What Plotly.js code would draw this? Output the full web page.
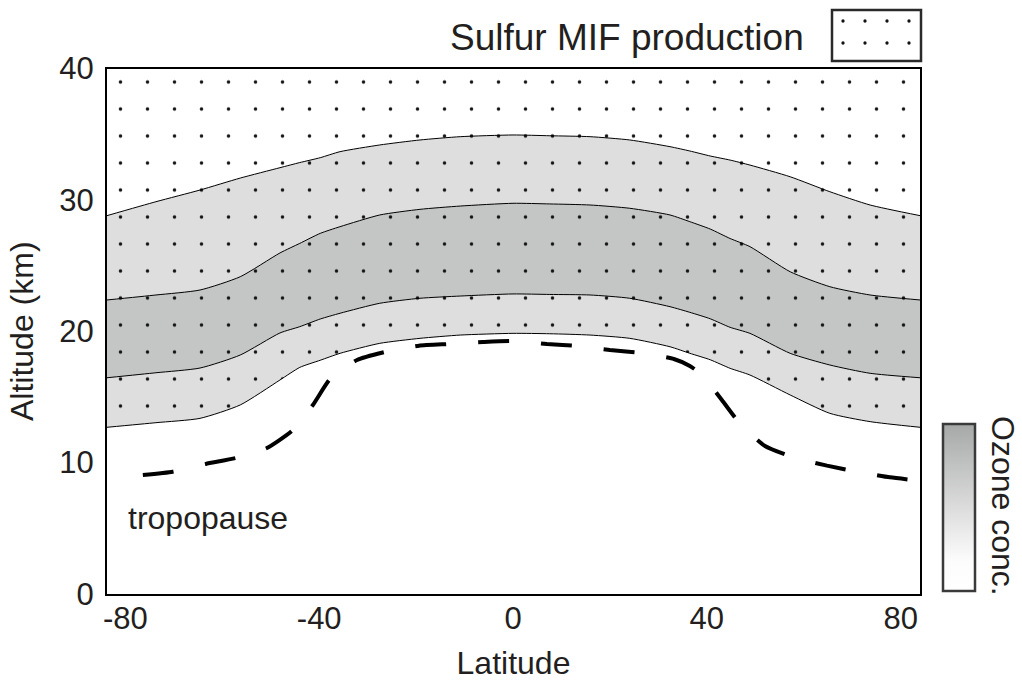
<!DOCTYPE html>
<html>
<head>
<meta charset="utf-8">
<script src="https://cdn.plot.ly/plotly-3.0.1.min.js"></script>
<style>html,body{margin:0;padding:0;background:#fff;}#chart{width:1022px;height:681px;}</style>
</head>
<body>
<div id="chart"></div>
<script>
// ---- data ----
const latitude = [-83.8, -73.7, -64.6, -56.3, -48.1, -44.0, -39.8, -35.7, -27.5, -19.2, -10.9, 0, 7.6, 15.9, 24.1, 32.4, 36.5, 40.7, 44.8, 48.9, 57.2, 65.4, 73.7, 84.0];
const ozoneOuterTop    = [28.80, 29.86, 30.75, 31.66, 32.45, 32.84, 33.21, 33.67, 34.18, 34.56, 34.81, 34.94, 34.88, 34.81, 34.56, 34.05, 33.72, 33.34, 33.03, 32.65, 31.76, 30.62, 29.61, 28.80];
const ozoneCoreTop     = [22.38, 22.76, 23.14, 24.15, 25.96, 26.69, 27.45, 27.96, 28.85, 29.28, 29.53, 29.74, 29.69, 29.61, 29.36, 28.85, 28.34, 27.78, 27.06, 26.44, 24.53, 23.39, 22.76, 22.38];
const ozoneCoreBottom  = [16.46, 16.84, 17.20, 18.19, 19.87, 20.35, 20.93, 21.37, 22.13, 22.51, 22.68, 22.84, 22.80, 22.76, 22.51, 21.87, 21.44, 20.95, 20.30, 19.84, 18.32, 17.43, 16.80, 16.46];
const ozoneOuterBottom = [12.69, 13.04, 13.37, 14.39, 16.29, 17.25, 17.79, 18.32, 19.08, 19.46, 19.71, 19.84, 19.81, 19.71, 19.46, 18.82, 18.32, 17.83, 17.18, 16.67, 15.15, 13.75, 13.12, 12.69];

const tropLatitude = [-76.4, -70.2, -63.4, -57.2, -50.8, -45.6, -41.3, -37.8, -32.2, -26.2, -19.4, -13.2, -6.2, 0, 7.0, 13.4, 20.0, 26.6, 33.2, 36.5, 39.0, 43.1, 46.9, 52.0, 57.8, 64.8, 71.0, 77.8, 84.0];
const tropAltitude = [9.06, 9.31, 9.90, 10.35, 11.11, 12.43, 14.39, 16.34, 17.81, 18.44, 18.90, 19.03, 19.18, 19.26, 19.03, 18.88, 18.57, 18.34, 17.89, 17.36, 16.67, 14.77, 12.94, 11.27, 10.41, 9.77, 9.31, 8.88, 8.62];

const xTickVals = [-80, -40, 0, 40, 80];
const xTickText = ['-80', '-40', '0', '40', '80'];
const yTickVals = [0, 10, 20, 30, 40];
const yTickText = ['0', '10', '20', '30', '40'];
const xRange = [-83.8, 84.0];
const yRange = [0, 40];

// ---- styles ----
const FONT = 'Liberation Sans, Arial, Helvetica, sans-serif';
const TXT = '#231f20';
const LIGHT = '#dedede';
const DARK = '#c4c6c5';
const dotPattern = {shape: '.', size: 27, solidity: 0.013, fgcolor: '#111111', fgopacity: 1, bgcolor: 'rgba(0,0,0,0)', fillmode: 'replace'};
const plotTop = latitude.map(() => yRange[1]);

const noLine = {width: 0, color: 'rgba(0,0,0,0)'};
const thin = {width: 1, color: '#000000', shape: 'spline', smoothing: 0.6};
const base = {type: 'scatter', mode: 'lines', hoverinfo: 'skip', showlegend: false};

const traces = [
  Object.assign({}, base, {x: latitude, y: ozoneOuterBottom, line: Object.assign({}, noLine, {shape: 'spline', smoothing: 0.6})}),
  Object.assign({}, base, {x: latitude, y: ozoneOuterTop, fill: 'tonexty', fillcolor: LIGHT, line: Object.assign({}, noLine, {shape: 'spline', smoothing: 0.6})}),
  Object.assign({}, base, {x: latitude, y: ozoneCoreBottom, line: Object.assign({}, noLine, {shape: 'spline', smoothing: 0.6})}),
  Object.assign({}, base, {x: latitude, y: ozoneCoreTop, fill: 'tonexty', fillcolor: DARK, line: Object.assign({}, noLine, {shape: 'spline', smoothing: 0.6})}),
  // sulfur MIF production region: dotted, from the lower ozone edge to the top
  Object.assign({}, base, {x: latitude, y: ozoneOuterBottom, line: Object.assign({}, noLine, {shape: 'spline', smoothing: 0.6})}),
  Object.assign({}, base, {x: latitude, y: plotTop, fill: 'tonexty', fillcolor: 'rgba(0,0,0,0)', fillpattern: dotPattern, line: noLine}),
  // boundary lines
  Object.assign({}, base, {x: latitude, y: ozoneOuterBottom, line: thin}),
  Object.assign({}, base, {x: latitude, y: ozoneCoreBottom, line: thin}),
  Object.assign({}, base, {x: latitude, y: ozoneCoreTop, line: thin}),
  Object.assign({}, base, {x: latitude, y: ozoneOuterTop, line: thin}),
  // tropopause
  Object.assign({}, base, {x: tropLatitude, y: tropAltitude, line: {width: 4, color: '#000000', dash: '31px,32px', shape: 'spline', smoothing: 0.5}}),
  // legend swatch for sulfur MIF production (unit box on its own axes)
  Object.assign({}, base, {x: [0, 1, 1, 0, 0], y: [0, 0, 1, 1, 0], xaxis: 'x2', yaxis: 'y2', fill: 'toself', fillcolor: 'rgba(0,0,0,0)', fillpattern: Object.assign({}, dotPattern, {size: 22, solidity: 0.018}), line: noLine}),
  // ozone concentration colour bar carrier
  {type: 'scatter', mode: 'markers', x: [0.5], y: [0.5], xaxis: 'x2', yaxis: 'y2', hoverinfo: 'skip', showlegend: false,
   marker: {size: 1, opacity: 0, color: [0], cmin: 0, cmax: 1,
     colorscale: [[0, '#ffffff'], [0.18, '#fcfcfc'], [0.5, '#dcdcdc'], [1, '#a6a8a8']],
     showscale: true,
     colorbar: {x: 0.934078, xanchor: 'left', xpad: 0, y: 0.146859, yanchor: 'middle', ypad: 0,
       len: 167, lenmode: 'pixels', thickness: 32, thicknessmode: 'pixels',
       outlinewidth: 2.5, outlinecolor: '#3a3a3a', showticklabels: false, ticks: '', borderwidth: 0}}}
];

const axisFont = {family: FONT, size: 31, color: TXT};
const layout = {
  width: 1022, height: 681,
  margin: {l: 107, r: 20, t: 5, b: 87},
  paper_bgcolor: '#ffffff', plot_bgcolor: '#ffffff',
  font: {family: FONT, color: TXT},
  showlegend: false,
  xaxis: {domain: [0, 0.90838], range: xRange, tickvals: xTickVals, ticktext: xTickText, tickfont: axisFont,
    showgrid: false, zeroline: false, showline: true, mirror: true, linewidth: 2, linecolor: '#000000', ticks: '',
    ticklabelstandoff: -4, automargin: false,
    title: {text: 'Latitude', font: {family: FONT, size: 32, color: TXT}, standoff: 20}},
  yaxis: {domain: [0, 0.89219], range: yRange, tickvals: yTickVals, ticktext: yTickText, tickfont: axisFont,
    showgrid: false, zeroline: false, showline: true, mirror: true, linewidth: 2, linecolor: '#000000', ticks: '',
    ticklabelstandoff: 5, automargin: false,
    title: {text: 'Altitude (km)', font: {family: FONT, size: 32, color: TXT}, standoff: 16}},
  xaxis2: {domain: [0.810056, 0.909497], range: [0, 1], anchor: 'y2', visible: false, fixedrange: true},
  yaxis2: {domain: [0.904924, 0.991511], range: [0, 1], anchor: 'x2', visible: false, fixedrange: true},
  shapes: [
    {type: 'rect', xref: 'paper', yref: 'paper', x0: 0.810056, x1: 0.909497, y0: 0.904924, y1: 0.991511,
     line: {color: '#2a2a2a', width: 2.5}, fillcolor: 'rgba(0,0,0,0)'}
  ],
  annotations: [
    {text: 'Sulfur MIF production', xref: 'paper', yref: 'paper', x: 0.78101, y: 0.94567, xanchor: 'right', yanchor: 'middle',
     showarrow: false, font: {family: FONT, size: 37, color: TXT}},
    {text: 'Ozone conc.', xref: 'paper', yref: 'paper', x: 1.00112, y: 0.1494, xanchor: 'center', yanchor: 'middle',
     textangle: 90, showarrow: false, font: {family: FONT, size: 32, color: TXT}},
    {text: 'tropopause', xref: 'x', yref: 'y', x: -79.9, y: 5.8, xanchor: 'left', yanchor: 'middle',
     showarrow: false, font: {family: FONT, size: 32, color: TXT}}
  ]
};

Plotly.newPlot('chart', traces, layout, {staticPlot: true, displayModeBar: false});
</script>
</body>
</html>
